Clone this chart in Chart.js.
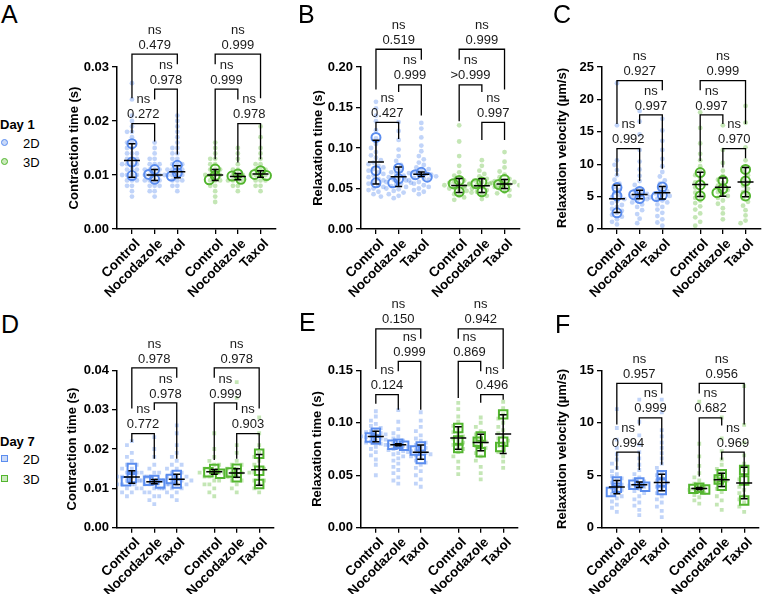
<!DOCTYPE html>
<html>
<head>
<meta charset="utf-8">
<script src="https://cdn.jsdelivr.net/npm/chart.js@4.4.1/dist/chart.umd.min.js"></script>
<style>
  body { margin: 0; background: #fff; width: 763px; height: 594px; position: relative; overflow: hidden;
         font-family: "Liberation Sans", Arial, sans-serif; color: #000; }
  canvas { position: absolute; }
  .letter { position: absolute; font-size: 25px; line-height: 1; }
  .legTitle { position: absolute; font-size: 13px; font-weight: bold; line-height: 1; }
  .legText { position: absolute; font-size: 13px; line-height: 13px; }
  .mk { position: absolute; width: 5px; height: 5px; border: 1.5px solid; }
  .mk.c { border-radius: 50%; }
</style>
</head>
<body>
<canvas id="chartA" width="240" height="300" style="left:42px;top:0px"></canvas>
<canvas id="chartB" width="240" height="300" style="left:286px;top:0px"></canvas>
<canvas id="chartC" width="240" height="300" style="left:527px;top:0px"></canvas>
<canvas id="chartD" width="240" height="302" style="left:42px;top:292px"></canvas>
<canvas id="chartE" width="240" height="302" style="left:286px;top:292px"></canvas>
<canvas id="chartF" width="240" height="302" style="left:527px;top:292px"></canvas>

<div class="letter" style="left:1px;top:2px">A</div>
<div class="letter" style="left:298px;top:2px">B</div>
<div class="letter" style="left:553px;top:2px">C</div>
<div class="letter" style="left:1px;top:312px">D</div>
<div class="letter" style="left:299px;top:310px">E</div>
<div class="letter" style="left:555px;top:312px">F</div>

<div class="legTitle" style="left:0px;top:118px">Day 1</div>
<div class="mk c" style="left:1px;top:139px;border-color:#5b8def;background:#c9d9f8"></div>
<div class="legText" style="left:23px;top:137px">2D</div>
<div class="mk c" style="left:1px;top:158px;border-color:#52b52e;background:#cbeabd"></div>
<div class="legText" style="left:23px;top:156px">3D</div>

<div class="legTitle" style="left:0px;top:435px">Day 7</div>
<div class="mk" style="left:1px;top:455px;border-color:#5b8def;background:#c9d9f8"></div>
<div class="legText" style="left:23px;top:453px">2D</div>
<div class="mk" style="left:1px;top:475px;border-color:#52b52e;background:#cbeabd"></div>
<div class="legText" style="left:23px;top:473px">3D</div>

<script>
// categories shared by all six panels
const categories = ["Control", "Nocodazole", "Taxol", "Control", "Nocodazole", "Taxol"];
const catX = [0, 1, 2, 3.67, 4.67, 5.67];
// bracket order: 2D C-N, 2D N-T, 2D C-T, 3D C-N, 3D N-T, 3D C-T
const bracketPairs = [[0, 1], [1, 2], [0, 2], [3, 4], [4, 5], [3, 5]];

// ---- A: Day 1 contraction time ----
const A_yTicks = [0, 0.01, 0.02, 0.03];
const A_dots2D = [
  [0.027, 0.024, 0.021, 0.020, 0.019, 0.018, 0.018, 0.017, 0.016, 0.016, 0.015, 0.015, 0.014, 0.014, 0.014, 0.013, 0.013, 0.013, 0.012, 0.012, 0.012, 0.012, 0.011, 0.011, 0.011, 0.010, 0.010, 0.010, 0.010, 0.009, 0.009, 0.009, 0.008, 0.008, 0.007, 0.006],
  [0.016, 0.015, 0.014, 0.013, 0.013, 0.012, 0.012, 0.012, 0.011, 0.011, 0.011, 0.011, 0.010, 0.010, 0.010, 0.010, 0.010, 0.009, 0.009, 0.009, 0.009, 0.008, 0.008, 0.008, 0.007, 0.007, 0.006],
  [0.021, 0.020, 0.019, 0.018, 0.017, 0.016, 0.015, 0.015, 0.014, 0.014, 0.013, 0.013, 0.012, 0.012, 0.012, 0.011, 0.011, 0.011, 0.011, 0.010, 0.010, 0.010, 0.010, 0.009, 0.009, 0.009, 0.008, 0.008, 0.007]
];
const A_dots3D = [
  [0.016, 0.015, 0.014, 0.013, 0.013, 0.012, 0.012, 0.011, 0.011, 0.011, 0.010, 0.010, 0.010, 0.010, 0.009, 0.009, 0.009, 0.008, 0.008, 0.007, 0.006, 0.005],
  [0.015, 0.014, 0.013, 0.012, 0.011, 0.011, 0.010, 0.010, 0.010, 0.009, 0.009, 0.009, 0.009, 0.008, 0.008, 0.007],
  [0.019, 0.017, 0.015, 0.014, 0.013, 0.012, 0.012, 0.011, 0.011, 0.011, 0.010, 0.010, 0.010, 0.010, 0.009, 0.009, 0.009, 0.008, 0.008, 0.007]
];
const A_reps2D = [[0.0158, 0.0124, 0.0099], [0.0110, 0.0101, 0.0092], [0.0118, 0.0104, 0.0098]];
const A_reps3D = [[0.0111, 0.0099, 0.0091], [0.0102, 0.0098, 0.0092], [0.0108, 0.0101, 0.0099]];
const A_mean2D = [0.0127, 0.0100, 0.0106];
const A_sd2D = [0.0031, 0.0010, 0.0011];
const A_mean3D = [0.0100, 0.0097, 0.0102];
const A_sd3D = [0.0010, 0.0006, 0.0006];
const A_pvals = ["0.272", "0.978", "0.479", "0.999", "0.978", "0.999"];
const A_brackets = [[0.0195, 0.0178, 0.0162], [0.0259, 0.0240, 0.0138], [0.0324, 0.0242, 0.0305],
                    [0.0259, 0.0129, 0.0240], [0.0195, 0.0123, 0.0129], [0.0324, 0.0305, 0.0242]];

// ---- B: Day 1 relaxation time ----
const B_yTicks = [0, 0.05, 0.10, 0.15, 0.20];
const B_dots2D = [
  [0.157, 0.149, 0.140, 0.133, 0.122, 0.112, 0.105, 0.100, 0.095, 0.091, 0.088, 0.085, 0.082, 0.080, 0.078, 0.076, 0.074, 0.072, 0.070, 0.068, 0.066, 0.064, 0.062, 0.060, 0.058, 0.056, 0.054, 0.052, 0.050, 0.048, 0.046, 0.043, 0.040],
  [0.132, 0.121, 0.110, 0.098, 0.090, 0.084, 0.079, 0.075, 0.072, 0.070, 0.068, 0.066, 0.064, 0.062, 0.061, 0.060, 0.058, 0.057, 0.056, 0.055, 0.053, 0.052, 0.050, 0.049, 0.047, 0.045, 0.043, 0.041, 0.038],
  [0.131, 0.124, 0.113, 0.103, 0.096, 0.090, 0.086, 0.082, 0.079, 0.076, 0.074, 0.072, 0.070, 0.069, 0.068, 0.067, 0.066, 0.065, 0.064, 0.063, 0.062, 0.061, 0.060, 0.058, 0.056, 0.054, 0.052, 0.050, 0.048, 0.046, 0.043]
];
const B_dots3D = [
  [0.128, 0.108, 0.090, 0.078, 0.070, 0.066, 0.063, 0.060, 0.058, 0.057, 0.056, 0.055, 0.054, 0.053, 0.052, 0.051, 0.050, 0.048, 0.047, 0.045, 0.043, 0.041, 0.039, 0.036],
  [0.085, 0.078, 0.072, 0.068, 0.065, 0.062, 0.060, 0.058, 0.057, 0.056, 0.055, 0.054, 0.053, 0.052, 0.051, 0.050, 0.048, 0.046, 0.044, 0.041, 0.037],
  [0.095, 0.083, 0.076, 0.071, 0.067, 0.064, 0.062, 0.060, 0.059, 0.058, 0.057, 0.056, 0.055, 0.054, 0.053, 0.052, 0.050, 0.048, 0.046, 0.044, 0.041]
];
const B_reps2D = [[0.113, 0.072, 0.057], [0.075, 0.062, 0.057], [0.070, 0.067, 0.064]];
const B_reps3D = [[0.060, 0.056, 0.046], [0.058, 0.056, 0.046], [0.061, 0.055, 0.051]];
const B_mean2D = [0.0827, 0.0646, 0.0675];
const B_sd2D = [0.0270, 0.0120, 0.0028];
const B_mean3D = [0.0538, 0.0535, 0.0555];
const B_sd3D = [0.0087, 0.0085, 0.0055];
const B_pvals = ["0.427", "0.999", "0.519", ">0.999", "0.997", "0.999"];
const B_brackets = [[0.1317, 0.121, 0.111], [0.178, 0.169, 0.140], [0.2219, 0.1722, 0.209],
                    [0.178, 0.133, 0.169], [0.1317, 0.110, 0.110], [0.2219, 0.209, 0.1722]];

// ---- C: Day 1 relaxation velocity ----
const C_yTicks = [0, 5, 10, 15, 20, 25];
const C_dots2D = [
  [22.5, 16.0, 10.6, 9.9, 9.1, 8.3, 7.6, 7.0, 6.5, 6.0, 5.6, 5.2, 4.9, 4.6, 4.3, 4.0, 3.7, 3.4, 3.1, 2.8, 2.5, 2.2, 1.9, 1.5, 1.1, 0.7],
  [18.2, 16.6, 14.6, 12.2, 10.4, 9.2, 8.2, 7.4, 6.8, 6.3, 5.9, 5.6, 5.4, 5.2, 5.0, 4.8, 4.6, 4.4, 4.1, 3.8, 3.4, 2.9, 2.3, 1.6, 0.9],
  [17.0, 15.2, 13.6, 12.2, 10.8, 9.7, 8.8, 8.1, 7.5, 7.0, 6.5, 6.1, 5.8, 5.5, 5.3, 5.1, 4.9, 4.7, 4.4, 4.1, 3.8, 3.4, 3.0, 2.5, 2.0, 1.5, 1.0, 0.5]
];
const C_dots3D = [
  [18.0, 15.6, 13.2, 11.6, 10.6, 9.7, 8.9, 8.3, 7.7, 7.2, 6.8, 6.4, 6.0, 5.6, 5.2, 4.8, 4.4, 4.0, 3.5, 3.0, 2.4, 1.8, 1.1, 0.5],
  [16.0, 12.2, 10.2, 9.0, 8.2, 7.6, 7.1, 6.7, 6.3, 6.0, 5.7, 5.4, 5.1, 4.8, 4.4, 3.9, 3.2, 2.4, 1.5],
  [19.0, 16.4, 12.6, 10.6, 9.6, 8.9, 8.3, 7.7, 7.2, 6.7, 6.2, 5.7, 5.2, 4.7, 4.2, 3.6, 2.9, 2.1, 1.3, 0.9]
];
const C_reps2D = [[6.4, 5.1, 2.5], [5.8, 5.3, 4.7], [6.5, 5.2, 5.0]];
const C_reps3D = [[8.7, 6.8, 5.1], [7.5, 6.2, 5.6], [9.2, 7.4, 5.1]];
const C_mean2D = [4.66, 5.33, 5.59];
const C_sd2D = [2.1, 0.65, 0.97];
const C_mean3D = [6.88, 6.46, 7.24];
const C_sd3D = [1.86, 1.4, 2.25];
const C_pvals = ["0.992", "0.997", "0.927", "0.997", "0.970", "0.999"];
const C_brackets = [[12.4, 8.2, 7.4], [17.6, 16.2, 9.3], [22.9, 16.2, 21.4],
                    [17.6, 10.5, 16.2], [12.4, 9.5, 10.9], [22.9, 21.4, 16.2]];

// ---- D: Day 7 contraction time ----
const D_yTicks = [0, 0.01, 0.02, 0.03, 0.04];
const D_dots2D = [
  [0.022, 0.021, 0.019, 0.018, 0.017, 0.016, 0.016, 0.015, 0.015, 0.014, 0.014, 0.014, 0.013, 0.013, 0.013, 0.013, 0.012, 0.012, 0.012, 0.012, 0.011, 0.011, 0.011, 0.010, 0.010, 0.010, 0.009, 0.009, 0.008],
  [0.023, 0.020, 0.018, 0.016, 0.015, 0.014, 0.014, 0.013, 0.013, 0.012, 0.012, 0.012, 0.012, 0.011, 0.011, 0.011, 0.011, 0.010, 0.010, 0.010, 0.009, 0.009, 0.008, 0.008, 0.007, 0.006],
  [0.026, 0.024, 0.021, 0.019, 0.018, 0.017, 0.016, 0.016, 0.015, 0.015, 0.014, 0.014, 0.013, 0.013, 0.013, 0.012, 0.012, 0.012, 0.012, 0.011, 0.011, 0.011, 0.010, 0.010, 0.010, 0.009, 0.009, 0.008, 0.007]
];
const D_dots3D = [
  [0.024, 0.020, 0.018, 0.017, 0.016, 0.016, 0.015, 0.015, 0.014, 0.014, 0.014, 0.014, 0.013, 0.013, 0.013, 0.012, 0.012, 0.011, 0.011, 0.010, 0.009, 0.008],
  [0.037, 0.033, 0.021, 0.019, 0.017, 0.016, 0.016, 0.015, 0.015, 0.014, 0.014, 0.013, 0.013, 0.012, 0.012, 0.011, 0.010, 0.009],
  [0.028, 0.024, 0.021, 0.019, 0.018, 0.017, 0.016, 0.015, 0.015, 0.014, 0.014, 0.013, 0.012, 0.012, 0.011, 0.010, 0.009]
];
const D_reps2D = [[0.0152, 0.0126, 0.0118], [0.0121, 0.0119, 0.0112], [0.0134, 0.0124, 0.0112]];
const D_reps3D = [[0.0149, 0.0141, 0.0137], [0.0150, 0.0140, 0.0128], [0.0188, 0.0145, 0.0111]];
const D_mean2D = [0.0129, 0.0117, 0.0123];
const D_sd2D = [0.0016, 0.00055, 0.0013];
const D_mean3D = [0.0142, 0.0139, 0.0147];
const D_sd3D = [0.0006, 0.0011, 0.0039];
const D_pvals = ["0.772", "0.978", "0.978", "0.999", "0.903", "0.978"];
const D_brackets = [[0.0239, 0.0218, 0.0175], [0.0317, 0.0299, 0.0175], [0.0406, 0.0303, 0.0381],
                    [0.0317, 0.0172, 0.0299], [0.0239, 0.0175, 0.0200], [0.0406, 0.0381, 0.0303]];

// ---- E: Day 7 relaxation time ----
const E_yTicks = [0, 0.05, 0.10, 0.15];
const E_dots2D = [
  [0.111, 0.106, 0.102, 0.099, 0.097, 0.095, 0.093, 0.092, 0.091, 0.090, 0.089, 0.088, 0.087, 0.087, 0.086, 0.085, 0.084, 0.083, 0.082, 0.081, 0.080, 0.079, 0.077, 0.075, 0.072, 0.069, 0.065, 0.060, 0.050],
  [0.112, 0.101, 0.094, 0.090, 0.087, 0.085, 0.083, 0.081, 0.080, 0.079, 0.078, 0.077, 0.076, 0.075, 0.074, 0.073, 0.072, 0.071, 0.070, 0.068, 0.066, 0.064, 0.061, 0.058, 0.055, 0.052, 0.048, 0.045, 0.042],
  [0.110, 0.102, 0.096, 0.092, 0.088, 0.085, 0.083, 0.081, 0.079, 0.077, 0.076, 0.074, 0.073, 0.072, 0.071, 0.070, 0.069, 0.068, 0.066, 0.064, 0.062, 0.060, 0.057, 0.054, 0.050, 0.046, 0.042, 0.039]
];
const E_dots3D = [
  [0.119, 0.113, 0.106, 0.101, 0.097, 0.094, 0.091, 0.089, 0.087, 0.085, 0.083, 0.081, 0.079, 0.077, 0.075, 0.072, 0.068, 0.063, 0.057, 0.051],
  [0.105, 0.100, 0.096, 0.092, 0.089, 0.086, 0.084, 0.082, 0.080, 0.078, 0.076, 0.074, 0.071, 0.068, 0.064, 0.058, 0.052, 0.046],
  [0.120, 0.114, 0.108, 0.104, 0.100, 0.096, 0.093, 0.090, 0.087, 0.085, 0.083, 0.080, 0.078, 0.075, 0.072, 0.068, 0.063, 0.057]
];
const E_reps2D = [[0.0905, 0.0860, 0.0840], [0.0800, 0.0790, 0.0780], [0.0775, 0.0735, 0.0655]];
const E_reps3D = [[0.095, 0.083, 0.076], [0.087, 0.082, 0.072], [0.108, 0.082, 0.077]];
const E_mean2D = [0.0869, 0.0790, 0.0720];
const E_sd2D = [0.0051, 0.0010, 0.0068];
const E_mean3D = [0.0855, 0.0812, 0.0892];
const E_sd3D = [0.0108, 0.0079, 0.0185];
const E_pvals = ["0.124", "0.999", "0.150", "0.869", "0.496", "0.942"];
const E_brackets = [[0.1268, 0.1182, 0.1125], [0.1586, 0.149, 0.1125], [0.1895, 0.1513, 0.180],
                    [0.1586, 0.1236, 0.149], [0.1268, 0.119, 0.122], [0.1895, 0.180, 0.1513]];

// ---- F: Day 7 relaxation velocity ----
const F_yTicks = [0, 5, 10, 15];
const F_dots2D = [
  [11.3, 9.5, 8.4, 7.6, 7.0, 6.5, 6.1, 5.7, 5.4, 5.1, 4.9, 4.7, 4.5, 4.3, 4.1, 3.9, 3.8, 3.6, 3.4, 3.2, 3.0, 2.8, 2.5, 2.2, 1.9, 1.5],
  [12.2, 10.1, 8.8, 7.9, 7.2, 6.6, 6.0, 5.5, 5.1, 4.8, 4.6, 4.4, 4.2, 4.1, 4.0, 3.9, 3.7, 3.5, 3.3, 3.0, 2.7, 2.4, 2.1, 1.7, 1.2],
  [12.2, 11.0, 9.3, 8.7, 8.1, 7.6, 7.1, 6.6, 6.1, 5.7, 5.3, 5.0, 4.7, 4.5, 4.3, 4.1, 3.9, 3.6, 3.3, 3.0, 2.7, 2.4, 2.0, 1.6, 1.0]
];
const F_dots3D = [
  [12.0, 8.0, 6.8, 5.9, 5.2, 4.8, 4.5, 4.2, 4.0, 3.8, 3.7, 3.6, 3.5, 3.3, 3.1, 2.9, 2.6, 2.3],
  [10.5, 8.5, 7.3, 6.5, 6.0, 5.6, 5.2, 4.9, 4.7, 4.5, 4.3, 4.0, 3.7, 3.4, 3.0, 2.6, 2.2, 1.7],
  [13.5, 9.8, 8.1, 6.9, 6.1, 5.5, 5.0, 4.6, 4.2, 3.9, 3.6, 3.3, 3.0, 2.7, 2.4, 2.0, 1.5]
];
const F_reps2D = [[4.4, 3.8, 3.4], [4.3, 4.1, 3.9], [5.0, 4.3, 3.6]];
const F_reps3D = [[3.8, 3.7, 3.65], [5.1, 4.6, 4.0], [5.5, 4.5, 2.6]];
const F_mean2D = [3.87, 4.09, 4.31];
const F_sd2D = [0.64, 0.27, 0.78];
const F_mean3D = [3.73, 4.56, 4.25];
const F_sd3D = [0.09, 0.64, 1.5];
const F_pvals = ["0.994", "0.999", "0.957", "0.682", "0.969", "0.956"];
const F_brackets = [[7.21, 5.52, 5.5], [10.47, 9.73, 6.0], [13.75, 9.83, 12.8],
                    [10.47, 4.88, 9.73], [7.21, 6.48, 5.84], [13.75, 12.8, 9.83]];

const FONT = '"Liberation Sans", Arial, sans-serif';
Chart.defaults.font.family = FONT;
Chart.defaults.color = "#000";

const BLUE = "#5b8def", GREEN = "#52b52e";
const BLUE_LIGHT = "rgba(91,141,239,0.38)", GREEN_LIGHT = "rgba(100,190,60,0.38)";

// simple beeswarm: push points sideways until they do not overlap
function swarm(vals, cx, yMax, gap) {
  const pxY = 160 / yMax, pxX = 23;
  const placed = [];
  return vals.map(v => {
    const py = v * pxY;
    let off = 0;
    for (let k = 0; k < 60; k++) {
      const cand = Math.ceil(k / 2) * (k % 2 ? -1 : 1) * gap / 2;
      if (placed.every(q => Math.hypot(q[0] - cand, q[1] - py) >= gap)) { off = cand; break; }
    }
    placed.push([off, py]);
    return { x: cx + off / pxX, y: v };
  });
}

function statsPlugin(p) {
  return {
    id: "stats",
    afterDatasetsDraw(chart) {
      const { ctx, scales: { x, y } } = chart;
      const means = p.mean2D.concat(p.mean3D), sds = p.sd2D.concat(p.sd3D);
      ctx.save();
      ctx.strokeStyle = "#000";
      ctx.lineWidth = 1.5;
      means.forEach((m, i) => {
        const cx = x.getPixelForValue(catX[i]);
        const ym = y.getPixelForValue(m), yt = y.getPixelForValue(m + sds[i]), yb = y.getPixelForValue(m - sds[i]);
        ctx.beginPath();
        ctx.moveTo(cx - 8, ym); ctx.lineTo(cx + 8, ym);
        ctx.moveTo(cx, yt); ctx.lineTo(cx, yb);
        ctx.moveTo(cx - 3.5, yt); ctx.lineTo(cx + 3.5, yt);
        ctx.moveTo(cx - 3.5, yb); ctx.lineTo(cx + 3.5, yb);
        ctx.stroke();
      });
      // significance brackets
      ctx.lineWidth = 1.3;
      ctx.font = "13px " + FONT;
      ctx.fillStyle = "#1a1a1a";
      ctx.textAlign = "center";
      ctx.textBaseline = "middle";
      p.brackets.forEach((b, i) => {
        const [a, c] = bracketPairs[i];
        const xa = x.getPixelForValue(catX[a]), xc = x.getPixelForValue(catX[c]);
        const yTop = y.getPixelForValue(b[0]);
        ctx.beginPath();
        ctx.moveTo(xa, y.getPixelForValue(b[1]));
        ctx.lineTo(xa, yTop);
        ctx.lineTo(xc, yTop);
        ctx.lineTo(xc, y.getPixelForValue(b[2]));
        ctx.stroke();
        const mx = (xa + xc) / 2;
        ctx.fillText(p.pvals[i], mx, yTop - 9);
        ctx.fillText("ns", mx, yTop - 24);
      });
      ctx.restore();
    }
  };
}

const panels = [
  { id: "chartA", yTitle: "Contraction time (s)", yTicks: A_yTicks, dec: 2, dots2D: A_dots2D, dots3D: A_dots3D, reps2D: A_reps2D, reps3D: A_reps3D, mean2D: A_mean2D, sd2D: A_sd2D, mean3D: A_mean3D, sd3D: A_sd3D, pvals: A_pvals, brackets: A_brackets, square: false, titleOff: 43, row: 0 },
  { id: "chartB", yTitle: "Relaxation time (s)", yTicks: B_yTicks, dec: 2, dots2D: B_dots2D, dots3D: B_dots3D, reps2D: B_reps2D, reps3D: B_reps3D, mean2D: B_mean2D, sd2D: B_sd2D, mean3D: B_mean3D, sd3D: B_sd3D, pvals: B_pvals, brackets: B_brackets, square: false, titleOff: 43, row: 0 },
  { id: "chartC", yTitle: "Relaxation velocity (µm/s)", yTicks: C_yTicks, dec: 0, dots2D: C_dots2D, dots3D: C_dots3D, reps2D: C_reps2D, reps3D: C_reps3D, mean2D: C_mean2D, sd2D: C_sd2D, mean3D: C_mean3D, sd3D: C_sd3D, pvals: C_pvals, brackets: C_brackets, square: false, titleOff: 40, row: 0 },
  { id: "chartD", yTitle: "Contraction time (s)", yTicks: D_yTicks, dec: 2, dots2D: D_dots2D, dots3D: D_dots3D, reps2D: D_reps2D, reps3D: D_reps3D, mean2D: D_mean2D, sd2D: D_sd2D, mean3D: D_mean3D, sd3D: D_sd3D, pvals: D_pvals, brackets: D_brackets, square: true, titleOff: 45, row: 1 },
  { id: "chartE", yTitle: "Relaxation time (s)", yTicks: E_yTicks, dec: 2, dots2D: E_dots2D, dots3D: E_dots3D, reps2D: E_reps2D, reps3D: E_reps3D, mean2D: E_mean2D, sd2D: E_sd2D, mean3D: E_mean3D, sd3D: E_sd3D, pvals: E_pvals, brackets: E_brackets, square: true, titleOff: 44, row: 1 },
  { id: "chartF", yTitle: "Relaxation velocity (µm/s)", yTicks: F_yTicks, dec: 0, dots2D: F_dots2D, dots3D: F_dots3D, reps2D: F_reps2D, reps3D: F_reps3D, mean2D: F_mean2D, sd2D: F_sd2D, mean3D: F_mean3D, sd3D: F_sd3D, pvals: F_pvals, brackets: F_brackets, square: true, titleOff: 39.5, row: 1 }
];

// row geometry: padding top puts the top tick on the reference line, x box height sets the bottom
const rows = [{ padTop: 67, xH: 71 }, { padTop: 78.3, xH: 66.3 }];
const Y_BOX = 75;

panels.forEach(p => {
  const yMax = p.yTicks[p.yTicks.length - 1];
  const style = p.square ? "rect" : "circle";
  const padLeft = Y_BOX - p.titleOff - 7.8;
  const row = rows[p.row];

  const groupPts = (groups, offset, gap) => {
    const pts = [];
    groups.forEach((vals, g) => pts.push(...swarm(vals, catX[offset + g], yMax, gap)));
    return pts;
  };

  const datasets = [
    { data: groupPts(p.dots2D, 0, 5), pointStyle: style, pointRadius: p.square ? 2.7 : 2.4, backgroundColor: BLUE_LIGHT, borderWidth: 0 },
    { data: groupPts(p.dots3D, 3, 5), pointStyle: style, pointRadius: p.square ? 2.7 : 2.4, backgroundColor: GREEN_LIGHT, borderWidth: 0 },
    { data: groupPts(p.reps2D, 0, 6), pointStyle: style, pointRadius: p.square ? 6 : 4.5, backgroundColor: "rgba(255,255,255,0)", borderColor: BLUE, borderWidth: 2 },
    { data: groupPts(p.reps3D, 3, 6), pointStyle: style, pointRadius: p.square ? 6 : 4.5, backgroundColor: "rgba(255,255,255,0)", borderColor: GREEN, borderWidth: 2 }
  ];

  new Chart(document.getElementById(p.id), {
    type: "scatter",
    data: { datasets },
    options: {
      responsive: false,
      animation: false,
      layout: { padding: { left: padLeft, top: row.padTop, right: 5, bottom: 0 } },
      plugins: { legend: { display: false }, tooltip: { enabled: false } },
      scales: {
        x: {
          type: "linear",
          min: -0.66,
          max: 6.33,
          afterFit(s) { s.height = row.xH; },
          afterBuildTicks(s) { s.ticks = catX.map(v => ({ value: v })); },
          grid: { drawOnChartArea: false, drawTicks: true, tickLength: 5, color: "#000", lineWidth: 1.3 },
          border: { display: true, color: "#000", width: 1.5 },
          ticks: {
            autoSkip: false, minRotation: 45, maxRotation: 45, padding: 2, labelOffset: 6,
            font: { size: 13.5, weight: "bold" }, color: "#000",
            callback: (v, i) => categories[i]
          }
        },
        y: {
          min: 0,
          max: yMax,
          afterFit(s) { s.width = Y_BOX - padLeft; },
          afterBuildTicks(s) { s.ticks = p.yTicks.map(v => ({ value: v })); },
          grid: { drawOnChartArea: false, drawTicks: true, tickLength: 5, color: "#000", lineWidth: 1.3 },
          border: { display: true, color: "#000", width: 1.5 },
          ticks: {
            padding: 3, font: { size: 13, weight: "bold" }, color: "#000",
            callback: v => v.toFixed(p.dec)
          },
          title: { display: true, text: p.yTitle, font: { size: 13, weight: "bold" }, color: "#000", padding: 0 }
        }
      }
    },
    plugins: [statsPlugin(p)]
  });
});
</script>
</body>
</html>
